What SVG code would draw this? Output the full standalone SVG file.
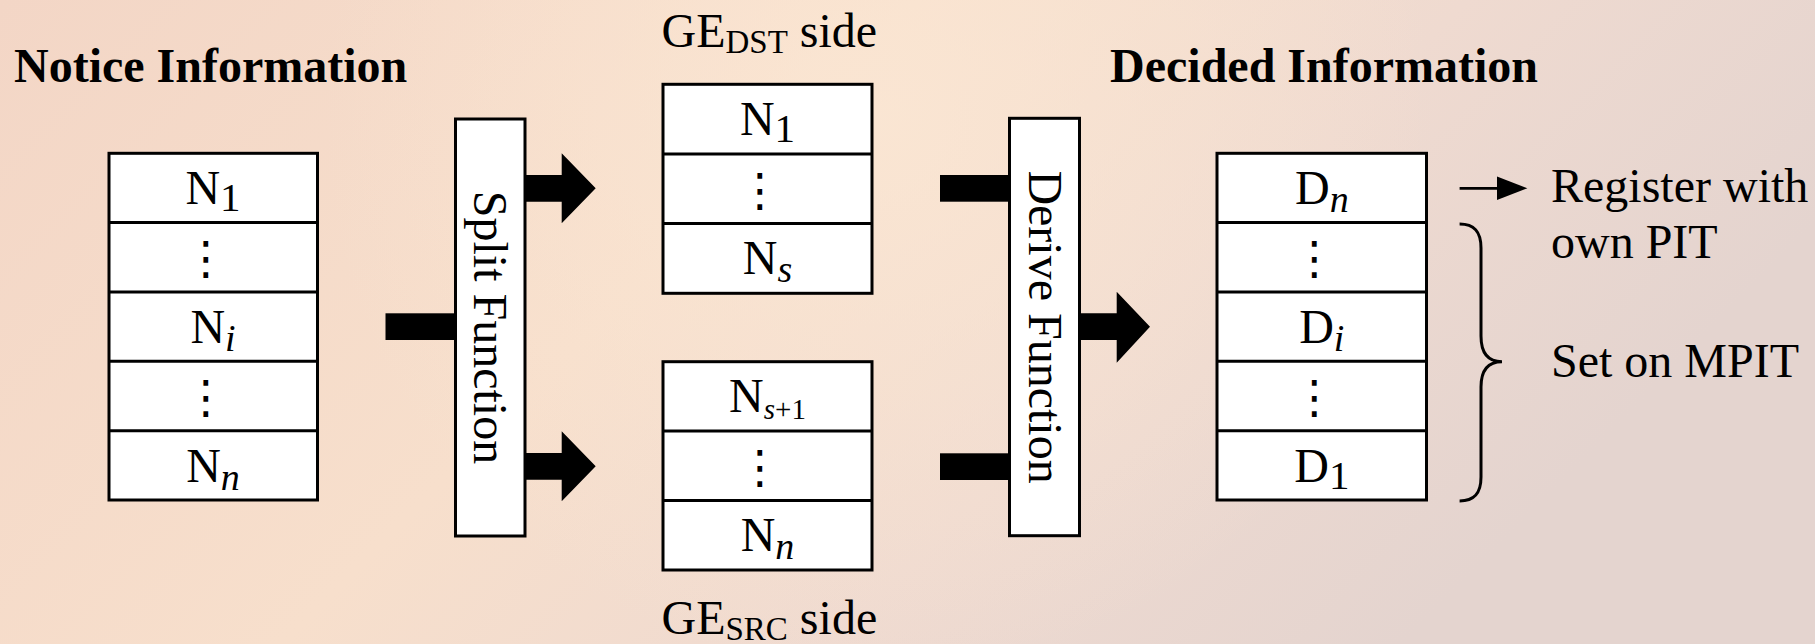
<svg xmlns="http://www.w3.org/2000/svg" width="1815" height="644" viewBox="0 0 1815 644">
  <defs>
    <linearGradient id="bg" x1="0" y1="0" x2="1" y2="0.35">
      <stop offset="0" stop-color="#f3d6c6"/>
      <stop offset="0.45" stop-color="#f7dfcc"/>
      <stop offset="0.72" stop-color="#efdad0"/>
      <stop offset="1" stop-color="#e4d4cf"/>
    </linearGradient>
    <radialGradient id="glow" cx="880" cy="120" r="560" gradientUnits="userSpaceOnUse">
      <stop offset="0" stop-color="#fbe7d4" stop-opacity="0.8"/>
      <stop offset="1" stop-color="#fbe7d4" stop-opacity="0"/>
    </radialGradient>
    <style>
      .t { font-family: "Liberation Serif", "Times New Roman", serif; font-size: 48px; fill: #000; }
      .b { font-weight: bold; }
      .c { text-anchor: middle; }
      .it { font-style: italic; }
      .dots { font-family: "DejaVu Sans", sans-serif; font-size: 46px; text-anchor: middle; fill: #000; }
      .box { fill: #fff; stroke: #000; stroke-width: 3; }
      .sep { stroke: #000; stroke-width: 3; }
      .solid { fill: #000; stroke: none; }
    </style>
  </defs>

  <!-- background -->
  <rect width="1815" height="644" fill="url(#bg)"/>
  <rect width="1815" height="644" fill="url(#glow)"/>

  <!-- headings -->
  <text class="t b" x="14" y="81.7">Notice Information</text>
  <text class="t b" x="1538" y="81.7" text-anchor="end">Decided Information</text>
  <text class="t" x="661.5" y="46.7">GE<tspan font-size="33" dy="6.7">DST</tspan><tspan dy="-6.7"> side</tspan></text>
  <text class="t" x="661.5" y="634">GE<tspan font-size="33" dy="6">SRC</tspan><tspan dy="-6"> side</tspan></text>

  <!-- notice information table -->
  <g id="notice">
    <rect class="box" x="109" y="153.3" width="208.5" height="346.7"/>
    <line class="sep" x1="109" y1="222.6" x2="317.5" y2="222.6"/>
    <line class="sep" x1="109" y1="292" x2="317.5" y2="292"/>
    <line class="sep" x1="109" y1="361.3" x2="317.5" y2="361.3"/>
    <line class="sep" x1="109" y1="430.7" x2="317.5" y2="430.7"/>
    <text class="t c" x="213" y="203.5">N<tspan font-size="41" dy="7">1</tspan></text>
    <text class="dots" x="206" y="274">⋮</text>
    <text class="t c" x="213" y="342.5">N<tspan class="it" font-size="38" dy="8">i</tspan></text>
    <text class="dots" x="206" y="413">⋮</text>
    <text class="t c" x="213" y="481.5">N<tspan class="it" font-size="38" dy="8">n</tspan></text>
  </g>

  <!-- split function -->
  <g id="split">
    <rect class="box" x="455.5" y="119" width="69.5" height="417"/>
    <text class="t c" transform="translate(473.5,327.5) rotate(90)">Split Function</text>
  </g>

  <!-- destination side table -->
  <g id="ge-dst">
    <rect class="box" x="663" y="84.3" width="209" height="209"/>
    <line class="sep" x1="663" y1="154" x2="872" y2="154"/>
    <line class="sep" x1="663" y1="223.6" x2="872" y2="223.6"/>
    <text class="t c" x="767.5" y="134.5">N<tspan font-size="41" dy="7">1</tspan></text>
    <text class="dots" x="760" y="205.5">⋮</text>
    <text class="t c" x="767.5" y="274">N<tspan class="it" font-size="38" dy="8">s</tspan></text>
  </g>

  <!-- source side table -->
  <g id="ge-src">
    <rect class="box" x="663" y="361.7" width="209" height="208.3"/>
    <line class="sep" x1="663" y1="431" x2="872" y2="431"/>
    <line class="sep" x1="663" y1="500.5" x2="872" y2="500.5"/>
    <text class="t c" x="767.5" y="412"><tspan>N</tspan><tspan class="it" font-size="29" dy="6.7">s</tspan><tspan font-size="29">+1</tspan></text>
    <text class="dots" x="760" y="482.5">⋮</text>
    <text class="t c" x="767.5" y="551">N<tspan class="it" font-size="38" dy="8">n</tspan></text>
  </g>

  <!-- derive function -->
  <g id="derive">
    <rect class="box" x="1009.5" y="118.3" width="70" height="417.4"/>
    <text class="t c" transform="translate(1028.5,327) rotate(90)">Derive Function</text>
  </g>

  <!-- decided information table -->
  <g id="decided">
    <rect class="box" x="1217" y="153.3" width="209.5" height="346.7"/>
    <line class="sep" x1="1217" y1="222.6" x2="1426.5" y2="222.6"/>
    <line class="sep" x1="1217" y1="292" x2="1426.5" y2="292"/>
    <line class="sep" x1="1217" y1="361.3" x2="1426.5" y2="361.3"/>
    <line class="sep" x1="1217" y1="430.7" x2="1426.5" y2="430.7"/>
    <text class="t c" x="1321.8" y="203.5">D<tspan class="it" font-size="38" dy="8">n</tspan></text>
    <text class="dots" x="1314.5" y="274">⋮</text>
    <text class="t c" x="1321.8" y="342.5">D<tspan class="it" font-size="38" dy="8">i</tspan></text>
    <text class="dots" x="1314.5" y="413">⋮</text>
    <text class="t c" x="1321.8" y="481.5">D<tspan font-size="41" dy="7">1</tspan></text>
  </g>

  <!-- outcome notes -->
  <g id="notes">
    <text class="t" x="1551" y="201.7">Register with</text>
    <text class="t" x="1551" y="258.3">own PIT</text>
    <text class="t" x="1551" y="376.7">Set on MPIT</text>
  </g>

  <!-- brace grouping D(n-1) .. D1 -->
  <g id="brace">
    <path d="M1459.6,224 C1474,224 1481,231 1481,248 L1481,336 C1481,352 1487,361.7 1502,361.7 C1487,361.7 1481,371 1481,387 L1481,477 C1481,494 1474,501 1459.6,501" fill="none" stroke="#000" stroke-width="3"/>
  </g>

  <!-- connectors -->
  <g id="connectors">
    <rect class="solid" x="385.5" y="313.3" width="70" height="26.7"/>
    <polygon class="solid" points="525,175 561.7,175 561.7,153.3 595.7,188.3 561.7,223.3 561.7,201.7 525,201.7"/>
    <polygon class="solid" points="525,453 561.7,453 561.7,431.3 595.7,466.3 561.7,501.3 561.7,479.7 525,479.7"/>
    <rect class="solid" x="940" y="175" width="69.5" height="26.7"/>
    <rect class="solid" x="940" y="453.3" width="69.5" height="26.7"/>
    <polygon class="solid" points="1079.5,313.3 1116.7,313.3 1116.7,291.7 1150,326.7 1116.7,362.7 1116.7,340 1079.5,340"/>
    <line x1="1459.6" y1="188.3" x2="1500" y2="188.3" stroke="#000" stroke-width="2.8"/>
    <polygon class="solid" points="1497,176.5 1527.4,188.3 1497,200.1"/>
  </g>
</svg>
